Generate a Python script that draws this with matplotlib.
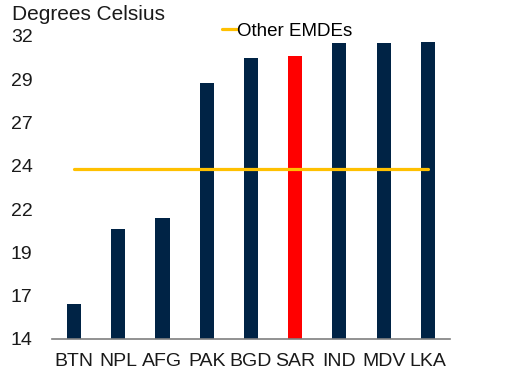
import numpy as np
import matplotlib.pyplot as plt
from matplotlib.ticker import FuncFormatter

plt.rcParams['font.family'] = ['Liberation Sans', 'DejaVu Sans']

# Average temperature by economy
countries = ['BTN', 'NPL', 'AFG', 'PAK', 'BGD', 'SAR', 'IND', 'MDV', 'LKA']
temps = [16.1, 20.5, 21.2, 29.2, 30.7, 30.8, 31.55, 31.6, 31.65]
other_emdes = 24.1

navy = '#002345'
red = '#FF0000'
gold = '#FFC000'

colors = [red if c == 'SAR' else navy for c in countries]

fig = plt.figure(figsize=(5.09, 3.74), dpi=100)
ax = fig.add_axes([0.102, 0.094, 0.782, 0.81])

x = np.arange(len(countries))
ax.bar(x, temps, width=0.32, color=colors, zorder=2)
ax.plot([x[0], x[-1]], [other_emdes, other_emdes], color=gold, linewidth=2.3,
        solid_capstyle='round', label='Other EMDEs', zorder=3)

ax.set_xlim(-0.5, len(countries) - 0.5)
ax.set_ylim(14, 32)
ax.set_yticks(np.linspace(14, 32, 8))
ax.yaxis.set_major_formatter(FuncFormatter(lambda v, p: f'{v:.0f}'))
ax.set_xticks(x)
ax.set_xticklabels(countries)

for s in ['top', 'right', 'left']:
    ax.spines[s].set_visible(False)
ax.spines['bottom'].set_color('#7f7f7f')
ax.spines['bottom'].set_linewidth(1.2)
ax.tick_params(axis='both', length=0, labelsize=14, colors='#1a1a1a')
ax.tick_params(axis='x', pad=10)
ax.tick_params(axis='y', pad=14)

fig.text(0.024, 0.96, 'Degrees Celsius', fontsize=15, va='center', ha='left',
         color='#1a1a1a')

ax.legend(loc='center', bbox_to_anchor=(0.59, 1.015), frameon=False, fontsize=13.5,
          handlelength=0.8, handletextpad=0.0, borderaxespad=0)

fig.savefig('out.png', dpi=100)
